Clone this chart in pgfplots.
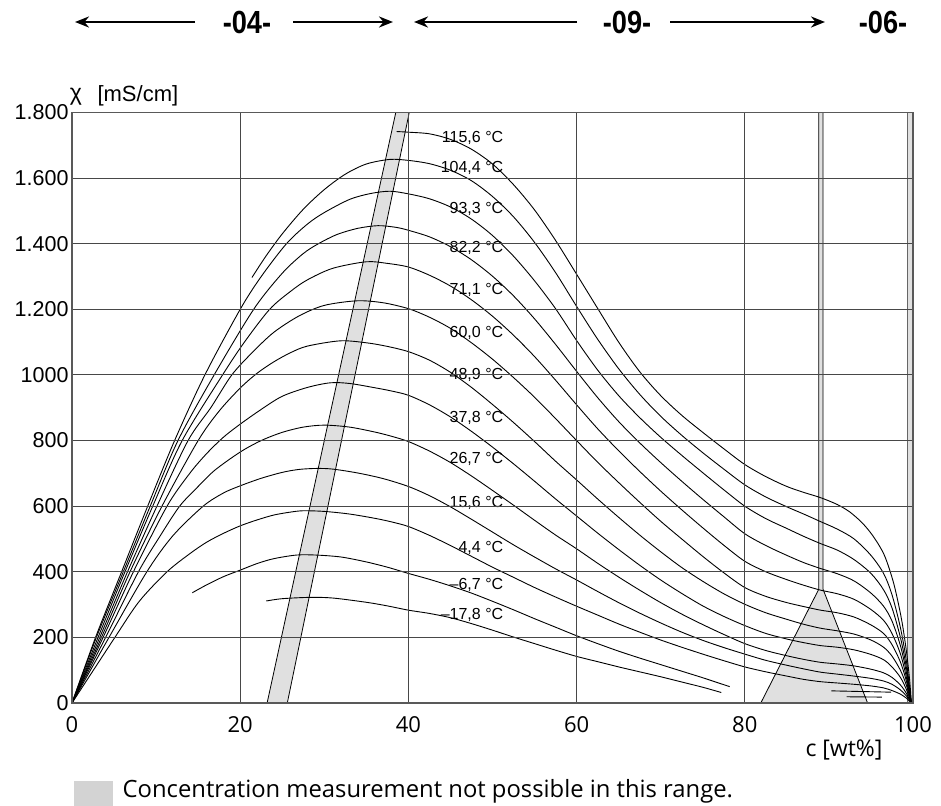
\documentclass[border=0pt]{standalone}
\usepackage{pgfplots}
\pgfplotsset{compat=1.18}
\usepackage{fontspec}
\setmainfont{Liberation Sans}
\newfontfamily\osans{Open Sans}
\newfontfamily\condfont{Liberation Sans}[FakeStretch=0.85]
\usetikzlibrary{arrows.meta}
\definecolor{bandgray}{HTML}{E0E0E0}
\definecolor{leggray}{HTML}{D3D3D3}
\begin{document}
\begin{tikzpicture}
\begin{axis}[
  at={(0,0)}, anchor=south west,
  width=841bp, height=590.5bp, scale only axis,
  xmin=0, xmax=100, ymin=0, ymax=1800,
  xtick={0,20,40,60,80,100},
  xticklabels={0,20,40,60,80,100},
  ytick={0,200,400,600,800,1000,1200,1400,1600,1800},
  yticklabels={0,200,400,600,800,1000,1.200,1.400,1.600,1.800},
  grid=major, grid style={black!72, line width=1bp},
  axis line style={black!65, line width=1.3bp},
  major tick style={draw=none},
  axis on top,
  xticklabel style={font=\osans\fontsize{22bp}{25bp}\selectfont, yshift=-10bp},
  yticklabel style={font=\fontsize{21.5bp}{24bp}\selectfont},
  every axis plot/.append style={line width=0.9bp},
]
% grey regions
\addplot[fill=bandgray, draw=black, line width=0.8bp] coordinates {(23.2,0) (25.6,0) (40.1,1800) (38.5,1800)} -- cycle;
\addplot[fill=bandgray, draw=black, line width=0.8bp] coordinates {(81.9,0) (88.8,347) (88.8,1800) (89.3,1800) (89.3,347) (94.6,0)} -- cycle;
\addplot[fill=bandgray, draw=black!60, line width=0.8bp] coordinates {(99.3,0) (99.3,1800) (100,1800) (100,0)} -- cycle;

% 115.6
\addplot[black, smooth] coordinates {(38.6,1742) (40,1740) (42.5,1735) (45,1718) (47.5,1688) (50,1643) (52.5,1580) (55,1503) (57.5,1410) (60,1307) (62.5,1203) (65,1100) (67.5,1010) (70,937) (72.5,877) (75,825) (77.5,775) (80,727) (82.5,690) (85,660) (87,642) (89,626) (91,605) (92.5,582) (94,548) (95.3,507) (96.6,450) (97.7,365) (98.6,260) (99.2,161) (99.6,70) (99.8,0)};
% 104.4
\addplot[black, smooth] coordinates {(21.4,1297) (23,1360) (25,1430) (27.5,1505) (30,1565) (32.5,1612) (35,1643) (37.8,1657) (40,1654) (42.5,1644) (45,1624) (47.5,1592) (50,1544) (52.5,1482) (55,1404) (57.5,1312) (60,1209) (62.5,1109) (65,1019) (67.5,941) (70,874) (72.5,816) (75,763) (77.5,713) (80,665) (82.5,628) (85,598) (87,576) (89,553) (91,530) (93,500) (95,450) (96.5,395) (97.5,330) (98.5,230) (99.2,130) (99.8,0)};
% 93.3
\addplot[black, smooth] coordinates {(0,0) (2.8,200) (5.9,400) (9.0,600) (12.2,800) (15.8,1000) (20,1200) (22.5,1300) (25.5,1400) (28,1460) (30,1495) (33,1535) (35.5,1553) (37.8,1560) (40,1552) (42.5,1537) (45,1512) (47.5,1475) (50,1425) (52.5,1362) (55,1287) (57.5,1202) (60,1105) (62.5,1015) (65,937) (67.5,870) (70,810) (72.5,755) (75,702) (77.5,650) (80,600) (82.5,562) (85,532) (87,508) (89,486) (91,466) (93,437) (95,395) (96.5,345) (97.5,290) (98.5,200) (99.2,110) (99.8,0)};
% 82.2
\addplot[black, smooth] coordinates {(0,0) (2.9,200) (6.1,400) (9.3,600) (12.6,800) (16.9,1000) (21.6,1200) (25,1310) (27.5,1370) (29.3,1400) (31.5,1428) (34,1447) (36.4,1455) (38.5,1450) (40,1441) (42.5,1421) (45,1391) (47.5,1351) (50,1301) (52.5,1241) (55,1171) (57.5,1093) (60,1011) (62.5,931) (65,858) (67.5,793) (70,733) (72.5,676) (75,621) (77.5,568) (80,516) (82.5,480) (85,450) (87,428) (89,410) (91,394) (93,372) (95,335) (96.5,295) (97.5,250) (98.5,175) (99.2,95) (99.8,0)};
% 71.1
\addplot[black, smooth] coordinates {(0,0) (3.1,200) (6.3,400) (9.6,600) (13.1,800) (17.9,1000) (20.5,1100) (23.5,1200) (26,1255) (28,1290) (31,1325) (35,1345) (37.5,1340) (40,1329) (42.5,1304) (45,1271) (47.5,1229) (50,1179) (52.5,1121) (55,1056) (57.5,984) (60,909) (62.5,836) (65,769) (67.5,706) (70,646) (72.5,589) (75,534) (77.5,481) (80,432) (82.5,400) (85,376) (87,359) (89,344) (91,333) (93,316) (95,285) (96.5,252) (97.5,212) (98.5,150) (99.2,80) (99.8,0)};
% 60.0
\addplot[black, smooth] coordinates {(0,0) (3.3,200) (6.6,400) (10.1,600) (13.8,800) (16.5,900) (19,1000) (21.5,1070) (24,1130) (27,1180) (30,1212) (33.9,1226) (37,1220) (40,1202) (42.5,1176) (45,1142) (47.5,1098) (50,1048) (52.5,992) (55,932) (57.5,867) (60,800) (62.5,734) (65,672) (67.5,612) (70,554) (72.5,500) (75,447) (77.5,397) (80,352) (82.5,325) (85,306) (87,294) (89,283) (91,275) (93,262) (95,238) (96.5,212) (97.5,178) (98.5,125) (99.2,68) (99.8,0)};
% 48.9
\addplot[black, smooth] coordinates {(0,0) (3.5,200) (6.9,400) (10.7,600) (15,800) (17.5,890) (20,960) (22,1005) (24,1040) (26,1068) (28,1088) (31.9,1104) (35,1098) (37.5,1087) (40,1071) (42.5,1045) (45,1008) (47.5,962) (50,910) (52.5,855) (55,797) (57.5,737) (60,680) (62.5,622) (65,566) (67.5,512) (70,461) (72.5,413) (75,371) (77.5,333) (80,301) (82.5,275) (85,255) (87,240) (89,228) (91,220) (93,210) (95,192) (96.5,170) (97.5,143) (98.5,100) (99.2,55) (99.8,0)};
% 37.8
\addplot[black, smooth] coordinates {(0,0) (3.7,200) (7.3,400) (11.3,600) (14,700) (16,760) (18,810) (20,850) (22.5,895) (25,935) (28,962) (30.7,976) (33,974) (36,961) (38,951) (40,938) (42.5,909) (45,872) (47.5,828) (50,780) (52.5,729) (55,676) (57.5,622) (60,570) (62.5,518) (65,468) (67.5,420) (70,375) (72.5,334) (75,296) (77.5,264) (80,236) (82.5,212) (85,195) (87,184) (89,175) (91,170) (93,162) (95,148) (96.5,132) (97.5,110) (98.5,78) (99.2,42) (99.8,0)};
% 26.7
\addplot[black, smooth] coordinates {(0,0) (4.0,200) (7.9,400) (10.5,510) (12.8,600) (15,660) (17,710) (20,765) (22.5,800) (25,825) (27.5,841) (30,847) (33,841) (36,826) (38,813) (40,797) (42.5,768) (45,733) (47.5,692) (50,648) (52.5,603) (55,557) (57.5,512) (60,470) (62.5,426) (65,384) (67.5,344) (70,306) (72.5,271) (75,239) (77.5,209) (80,181) (82.5,160) (85,144) (87,133) (89,124) (91,119) (93,113) (95,103) (96.5,92) (97.5,78) (98.5,55) (99.2,30) (99.8,0)};
% 15.6
\addplot[black, smooth] coordinates {(0,0) (4.4,200) (8.9,400) (12,510) (15.6,600) (18,640) (20,662) (22.5,685) (25,703) (27,712) (29.1,715) (31,713) (34,701) (37,684) (40,660) (42.5,632) (45,598) (47.5,560) (50,521) (52.5,482) (55,445) (57.5,409) (60,375) (62.5,340) (65,306) (67.5,274) (70,244) (72.5,216) (75,191) (77.5,169) (80,149) (82.5,130) (85,115) (87,104) (89,94) (91,88) (93,82) (95,75) (96.5,67) (97.5,57) (98.5,40) (99.2,22) (99.8,0)};
% 4.4
\addplot[black, smooth] coordinates {(0,0) (5.1,200) (8,310) (11.3,400) (14,455) (16,490) (18,517) (20,540) (22,558) (24,573) (26,582) (27.5,586) (30,584) (33,576) (36,563) (38,552) (40,538) (42.5,511) (45,480) (47.5,447) (50,414) (52.5,383) (55,352) (57.5,323) (60,295) (62.5,268) (65,241) (67.5,216) (70,192) (72.5,170) (75,149) (77.5,129) (80,110) (82.5,95) (85,82) (87,72) (89,65) (91,61) (93,57) (95,52) (96.5,46) (97.5,38) (98.5,27) (99.2,15) (99.8,0)};
% -6.7
\addplot[black, smooth] coordinates {(14.3,336) (16,360) (18,385) (20,405) (22,425) (24,440) (26.7,451) (29,451) (32,445) (35,430) (37.5,414) (40,395) (42.5,377) (45,357) (47.5,335) (50,310) (52.5,284) (55,257) (57.5,231) (60,205) (62.5,181) (65,158) (67.5,137) (70,117) (72.5,97) (75,77) (77,60) (78.2,50)};
\addplot[black] coordinates {(90.3,37) (97.4,33)};
% -17.8
\addplot[black, smooth] coordinates {(23.1,311) (25,318) (28.3,322) (31,320) (35,307) (37.5,296) (40,283) (42.5,273) (45,260) (47.5,242) (50,222) (52.5,201) (55,181) (57.5,161) (60,142) (62.5,126) (65,110) (67.5,95) (70,80) (72.5,64) (75,48) (77.2,32)};
\addplot[black] coordinates {(92.1,19) (96.3,18)};

% temperature labels
\begin{scope}[every node/.style={anchor=east, font=\fontsize{16bp}{18bp}\selectfont, inner sep=0pt}]
\node at (axis cs:51.3,1721) {115,6 °C};
\node at (axis cs:51.3,1630) {104,4 °C};
\node at (axis cs:51.3,1505) {93,3 °C};
\node at (axis cs:51.3,1386) {82,2 °C};
\node at (axis cs:51.3,1258) {71,1 °C};
\node at (axis cs:51.3,1127) {60,0 °C};
\node at (axis cs:51.3,999) {48,9 °C};
\node at (axis cs:51.3,868) {37,8 °C};
\node at (axis cs:51.3,743) {26,7 °C};
\node at (axis cs:51.3,609) {15,6 °C};
\node at (axis cs:51.3,472) {4,4 °C};
\node at (axis cs:51.3,359) {–6,7 °C};
\node at (axis cs:51.3,268) {–17,8 °C};
\end{scope}
\end{axis}

% axis titles (coordinates in bp relative to the axis' lower left corner)
\node[font=\fontsize{23bp}{25bp}\selectfont] at (4bp,606bp) {χ};
\node[anchor=west, font=\fontsize{22bp}{25bp}\selectfont] at (22bp,607bp) {[mS/cm]};
\node[font=\osans\fontsize{23bp}{26bp}\selectfont] at (772bp,-47bp) {c [wt\%]};

% legend
\fill[leggray] (2bp,-78bp) rectangle (41bp,-104bp);
\node[anchor=base west, inner sep=0pt, font=\osans\fontsize{23.8bp}{26bp}\selectfont] at (50.5bp,-94bp) {Concentration measurement not possible in this range.};

% top range bar
\begin{scope}[line width=2.4bp, -{Stealth[length=14bp,width=11bp]}]
\draw (123bp,681bp) -- (3bp,681bp);
\draw (221bp,681bp) -- (321bp,681bp);
\draw (505bp,681bp) -- (342bp,681bp);
\draw (598bp,681bp) -- (753bp,681bp);
\end{scope}
\begin{scope}[every node/.style={font=\condfont\bfseries\fontsize{32bp}{34bp}\selectfont}]
\node at (175bp,681bp) {-04-};
\node at (555bp,681bp) {-09-};
\node at (811bp,681bp) {-06-};
\end{scope}

\pgfresetboundingbox
\path[use as bounding box] (-72bp,-103bp) rectangle (869bp,703bp);
\end{tikzpicture}
\end{document}
